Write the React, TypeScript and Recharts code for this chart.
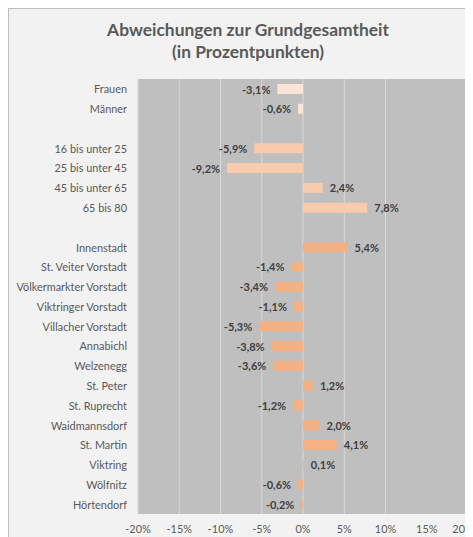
import { Bar, BarChart, CartesianGrid, Cell, LabelList, XAxis, YAxis } from 'recharts';

const CATEGORIES = [
  'Frauen', 'Männer', '',
  '16 bis unter 25', '25 bis unter 45', '45 bis unter 65', '65 bis 80', '',
  'Innenstadt', 'St. Veiter Vorstadt', 'Völkermarkter Vorstadt', 'Viktringer Vorstadt',
  'Villacher Vorstadt', 'Annabichl', 'Welzenegg', 'St. Peter', 'St. Ruprecht',
  'Waidmannsdorf', 'St. Martin', 'Viktring', 'Wölfnitz', 'Hörtendorf',
];
const VALUES: (number | null)[] = [
  -3.1, -0.6, null,
  -5.9, -9.2, 2.4, 7.8, null,
  5.4, -1.4, -3.4, -1.1, -5.3, -3.8, -3.6, 1.2, -1.2, 2.0, 4.1, 0.1, -0.6, -0.2,
];
// group per row: 0 = Geschlecht, 1 = Alter, 2 = Stadtteil
const GROUPS = [0, 0, 0, 1, 1, 1, 1, 1, 2, 2, 2, 2, 2, 2, 2, 2, 2, 2, 2, 2, 2, 2];
const GROUP_COLORS = ['#fce4d6', '#f8cbad', '#f4b183'];
const X_TICKS = [-20, -15, -10, -5, 0, 5, 10, 15, 20];

const FONT = 'Lato, "Open Sans", sans-serif';

const data = CATEGORIES.map((label, i) => ({ id: i, label, value: VALUES[i] }));

const fmt = (v: number) => `${v.toFixed(1).replace('.', ',')}%`;

function ValueLabel(props: any) {
  const { x, y, width, height, value } = props;
  if (value == null) return null;
  const neg = value < 0;
  const left = Math.min(x, x + width);
  const right = Math.max(x, x + width);
  return (
    <text
      x={neg ? left - 7 : right + 7}
      y={y + height / 2}
      textAnchor={neg ? 'end' : 'start'}
      dominantBaseline="central"
      fontSize={11}
      fontWeight={700}
      fill="#404040"
      fontFamily={FONT}
    >
      {fmt(value)}
    </text>
  );
}

function CategoryTick(props: any) {
  const { x, y, payload } = props;
  return (
    <text
      x={x}
      y={y}
      textAnchor="end"
      dominantBaseline="central"
      fontSize={10.9}
      fill="#595959"
      fontFamily={FONT}
    >
      {payload.value}
    </text>
  );
}

export default function App() {
  return (
    <div
      style={{
        position: 'relative',
        width: 470,
        height: 535,
        background: '#f2f2f2',
        border: '1px solid #bfbfbf',
        fontFamily: FONT,
      }}
    >
      <div
        style={{
          position: 'absolute',
          left: 0,
          top: 10,
          width: 478,
          textAlign: 'center',
          fontSize: 17.4,
          fontWeight: 700,
          lineHeight: '22px',
          color: '#595959',
        }}
      >
        Abweichungen zur Grundgesamtheit
        <br />
        (in Prozentpunkten)
      </div>
      <BarChart
        width={464}
        height={528}
        data={data}
        layout="vertical"
        margin={{ top: 70, right: 5, bottom: 3, left: 0 }}
        style={{ position: 'absolute', left: 0, top: 0 }}
      >
        <CartesianGrid horizontal={false} stroke="#d9d9d9" fill="#bfbfbf" strokeWidth={1} />
        <XAxis
          type="number"
          domain={[-20, 20]}
          ticks={X_TICKS}
          tickFormatter={(v) => `${v}%`}
          axisLine={false}
          tickLine={false}
          tickSize={0}
          tickMargin={11}
          height={20}
          tick={{ fontSize: 10.9, fill: '#595959', fontFamily: FONT }}
        />
        <YAxis
          type="category"
          dataKey="label"
          width={129}
          axisLine={false}
          tickLine={false}
          tickSize={0}
          tickMargin={11}
          interval={0}
          tick={<CategoryTick />}
        />
        <Bar dataKey="value" barSize={10} isAnimationActive={false}>
          {data.map((d) => (
            <Cell key={d.id} fill={GROUP_COLORS[GROUPS[d.id]]} />
          ))}
          <LabelList dataKey="value" content={ValueLabel} />
        </Bar>
      </BarChart>
    </div>
  );
}
